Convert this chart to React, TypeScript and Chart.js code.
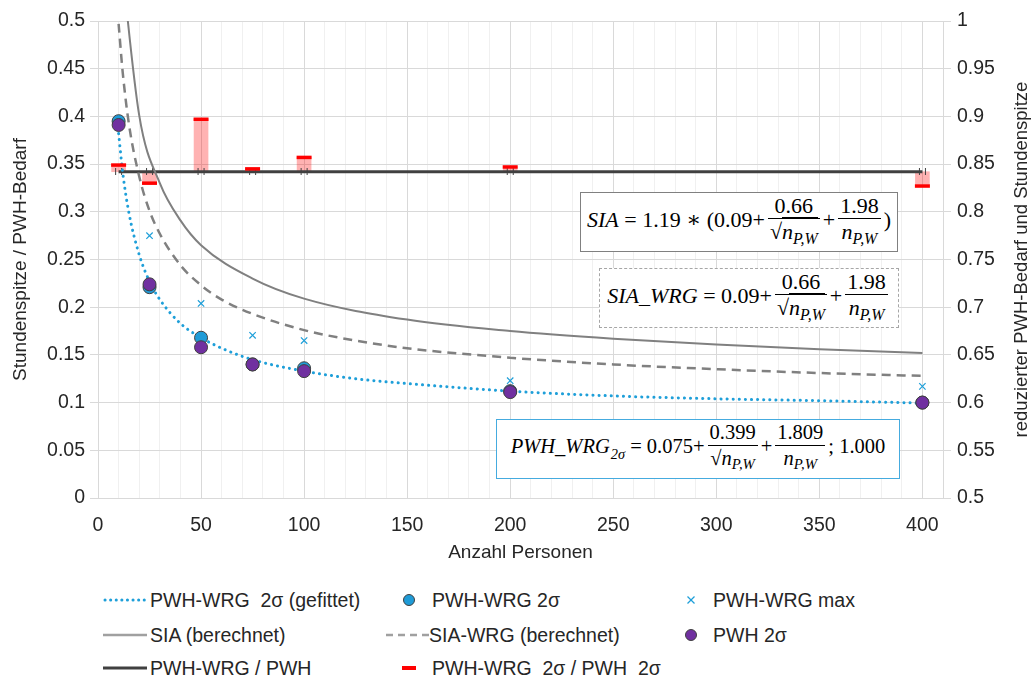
import React, { useEffect, useRef } from "react";
import { Chart, registerables } from "chart.js";
Chart.register(...registerables);

// ---- data ----
const curveX = [10, 12, 15, 20, 25, 30, 40, 50, 60, 75, 100, 125, 150, 200, 250, 300, 350, 400];
const pwhWrgFit = [0.382, 0.341, 0.299, 0.255, 0.227, 0.208, 0.183, 0.168, 0.157, 0.145, 0.133, 0.125, 0.12, 0.112, 0.107, 0.104, 0.102, 0.0995];
const siaWrg = [0.497, 0.446, 0.392, 0.337, 0.301, 0.277, 0.244, 0.223, 0.208, 0.193, 0.176, 0.165, 0.157, 0.147, 0.14, 0.135, 0.131, 0.128];
const siaX = [10, 20, 30, 40, 50, 75, 100, 150, 200, 250, 300, 350, 400];
const sia = [0.592, 0.401, 0.33, 0.291, 0.265, 0.23, 0.209, 0.187, 0.175, 0.167, 0.161, 0.156, 0.152];
const persons = [10, 25, 50, 75, 100, 200, 400];
const pwhWrg2s = [0.395, 0.221, 0.168, 0.14, 0.136, 0.112, 0.1];
const pwh2s = [0.391, 0.224, 0.158, 0.14, 0.133, 0.111, 0.1];
const pwhWrgMax = [null, 0.275, 0.204, 0.1705, 0.165, 0.123, 0.117];
const ratioMean = [0.842, 0.842, 0.842, 0.842, 0.842, 0.842, 0.842];
const ratio2s = [0.849, 0.83, 0.897, 0.845, 0.857, 0.847, 0.827];
const leftTicks = { min: 0, max: 0.5, step: 0.05 };
const rightTicks = { min: 0.5, max: 1, step: 0.05 };
const xTicks = { min: 0, max: 410, step: 10, major: 50 };

const FONT = '"Liberation Sans", Arial, sans-serif';
const TXT = "#262626";
const MATH = '"Liberation Serif", "DejaVu Serif", serif';

const pts = (xs: number[], ys: (number | null)[]) =>
  xs.map((x, i) => ({ x, y: ys[i] })).filter((p) => p.y !== null);

function makeH(): HTMLCanvasElement {
  const c = document.createElement("canvas");
  c.width = 9;
  c.height = 7;
  const g = c.getContext("2d")!;
  g.fillStyle = "#404040";
  g.fillRect(1, 0, 1, 7);
  g.fillRect(7, 0, 1, 7);
  return c;
}

const rightTitle = {
  id: "rightTitle",
  afterDraw(chart: any) {
    const { ctx, chartArea } = chart;
    ctx.save();
    ctx.translate(chart.width - 13, (chartArea.top + chartArea.bottom) / 2);
    ctx.rotate(-Math.PI / 2);
    ctx.font = `18.5px ${FONT}`;
    ctx.fillStyle = TXT;
    ctx.textAlign = "center";
    ctx.textBaseline = "middle";
    ctx.fillText("reduzierter PWH-Bedarf und Stundenspitze", 0, 0);
    ctx.restore();
  },
};

function N() {
  return (
    <span style={{ whiteSpace: "nowrap" }}>
      <i>n</i>
      <sub style={{ fontSize: "0.72em", fontStyle: "italic", verticalAlign: "-0.3em" }}>P,W</sub>
    </span>
  );
}
function SqrtN() {
  return (
    <span style={{ whiteSpace: "nowrap" }}>
      √<span style={{ borderTop: "1px solid #000", paddingTop: 1 }}><N /></span>
    </span>
  );
}
function Frac({ num, den }: { num: React.ReactNode; den: React.ReactNode }) {
  return (
    <span style={{ display: "inline-flex", flexDirection: "column", alignItems: "stretch", verticalAlign: "middle", margin: "0 3px" }}>
      <span style={{ textAlign: "center", lineHeight: "25px", padding: "0 2px" }}>{num}</span>
      <span style={{ textAlign: "center", lineHeight: "25px", borderTop: "1.5px solid #000", padding: "0 2px" }}>{den}</span>
    </span>
  );
}
function Box({ style, children }: { style: React.CSSProperties; children: React.ReactNode }) {
  return (
    <div
      style={{
        position: "absolute",
        boxSizing: "border-box",
        background: "#fff",
        display: "flex",
        alignItems: "center",
        justifyContent: "center",
        fontFamily: MATH,
        fontSize: 22,
        color: "#000",
        whiteSpace: "nowrap",
        ...style,
      }}
    >
      <span style={{ display: "inline-block", lineHeight: "normal" }}>{children}</span>
    </div>
  );
}

function Sym({ kind }: { kind: string }) {
  const w = 44, h = 16, c = h / 2;
  let el: React.ReactNode = null;
  if (kind === "dot") el = <line x1={2} y1={c} x2={42} y2={c} stroke="#1e9fd9" strokeWidth={3} strokeDasharray="0.1 5.5" strokeLinecap="round" />;
  if (kind === "solid") el = <line x1={0} y1={c} x2={44} y2={c} stroke="#a0a0a0" strokeWidth={2.5} />;
  if (kind === "black") el = <line x1={0} y1={c} x2={44} y2={c} stroke="#404040" strokeWidth={3} />;
  if (kind === "dash") el = <line x1={0} y1={c} x2={44} y2={c} stroke="#a0a0a0" strokeWidth={2.5} strokeDasharray="7 5" />;
  if (kind === "blue") el = <circle cx={22} cy={c} r={5.5} fill="#1f9bd7" stroke="#404040" strokeWidth={1} />;
  if (kind === "purple") el = <circle cx={22} cy={c} r={5.5} fill="#7030a0" stroke="#404040" strokeWidth={1} />;
  if (kind === "x")
    el = (
      <g stroke="#1e9fd9" strokeWidth={1.2}>
        <line x1={18.5} y1={c - 3.5} x2={25.5} y2={c + 3.5} />
        <line x1={18.5} y1={c + 3.5} x2={25.5} y2={c - 3.5} />
      </g>
    );
  if (kind === "red") el = <rect x={15} y={c - 2} width={14} height={4} fill="#ff0000" />;
  return (
    <svg width={w} height={h} style={{ position: "absolute", left: 0, top: -h / 2 }}>
      {el}
    </svg>
  );
}

const legendItems = [
  { kind: "dot", label: "PWH-WRG  2σ (gefittet)", sx: 103, tx: 150, y: 600 },
  { kind: "blue", label: "PWH-WRG 2σ", sx: 387, tx: 432, y: 600 },
  { kind: "x", label: "PWH-WRG max", sx: 669, tx: 713, y: 600 },
  { kind: "solid", label: "SIA (berechnet)", sx: 103, tx: 150, y: 635 },
  { kind: "dash", label: "SIA-WRG (berechnet)", sx: 386, tx: 429, y: 635 },
  { kind: "purple", label: "PWH 2σ", sx: 669, tx: 713, y: 635 },
  { kind: "black", label: "PWH-WRG / PWH", sx: 103, tx: 150, y: 668 },
  { kind: "red", label: "PWH-WRG  2σ / PWH  2σ", sx: 387, tx: 432, y: 668 },
];

export default function App() {
  const ref = useRef<HTMLCanvasElement>(null);
  useEffect(() => {
    if (!ref.current) return;
    const hMark = makeH();
    const font = { family: FONT, size: 19.5 };
    const titleFont = { family: FONT, size: 19 };
    const chart = new Chart(ref.current, {
      type: "scatter",
      data: {
        datasets: [
          {
            label: "PWH 2σ",
            data: pts(persons, pwh2s),
            yAxisID: "y",
            pointStyle: "circle",
            pointRadius: 6.5,
            backgroundColor: "#7030a0",
            borderColor: "#404040",
            borderWidth: 1,
            order: 1,
          } as any,
          {
            label: "PWH-WRG 2σ",
            data: pts(persons, pwhWrg2s),
            yAxisID: "y",
            pointStyle: "circle",
            pointRadius: 6.5,
            backgroundColor: "#1f9bd7",
            borderColor: "#404040",
            borderWidth: 1,
            order: 2,
          },
          {
            label: "PWH-WRG max",
            data: pts(persons, pwhWrgMax),
            yAxisID: "y",
            pointStyle: "crossRot",
            pointRadius: 4.5,
            borderColor: "#1e9fd9",
            borderWidth: 1.2,
            order: 3,
          },
          {
            label: "PWH-WRG 2σ / PWH 2σ",
            data: pts(persons, ratio2s),
            yAxisID: "y2",
            pointStyle: "line",
            pointRadius: 7.5,
            borderColor: "#ff0000",
            borderWidth: 3.5,
            order: 4,
          },
          {
            label: "PWH-WRG 2σ (gefittet)",
            data: pts(curveX, pwhWrgFit),
            yAxisID: "y",
            showLine: true,
            pointRadius: 0,
            borderColor: "#1e9fd9",
            borderWidth: 3,
            borderDash: [0.1, 6],
            borderCapStyle: "round",
            cubicInterpolationMode: "monotone",
            order: 5,
          },
          {
            label: "SIA-WRG (berechnet)",
            data: pts(curveX, siaWrg),
            yAxisID: "y",
            showLine: true,
            pointRadius: 0,
            borderColor: "#808080",
            borderWidth: 2.5,
            borderDash: [9, 6],
            cubicInterpolationMode: "monotone",
            order: 6,
          },
          {
            label: "SIA (berechnet)",
            data: pts(siaX, sia),
            yAxisID: "y",
            showLine: true,
            pointRadius: 0,
            borderColor: "#808080",
            borderWidth: 2,
            cubicInterpolationMode: "monotone",
            order: 7,
          },
          {
            label: "PWH-WRG / PWH",
            data: pts(persons, ratioMean),
            yAxisID: "y2",
            showLine: true,
            pointStyle: hMark,
            pointRadius: 4,
            borderColor: "#404040",
            borderWidth: 3,
            order: 8,
          },
          {
            type: "bar",
            label: "Abweichung",
            data: persons.map((x, i) => ({ x, y: [ratioMean[i], ratio2s[i]] })),
            yAxisID: "y2",
            backgroundColor: "rgba(255,0,0,0.3)",
            barThickness: 14,
            order: 9,
          } as any,
        ],
      },
      options: {
        responsive: false,
        devicePixelRatio: 1,
        animation: false,
        events: [],
        layout: { padding: { top: 21, left: 0, right: 0, bottom: 0 } },
        plugins: { legend: { display: false }, tooltip: { enabled: false } },
        scales: {
          x: {
            type: "linear",
            position: "bottom",
            min: xTicks.min,
            max: xTicks.max,
            offset: false,
            ticks: {
              stepSize: xTicks.step,
              autoSkip: false,
              maxRotation: 0,
              font,
              color: TXT,
              padding: 10,
              callback: (v: any) => (Math.round(v) % xTicks.major === 0 ? String(v) : ""),
            },
            grid: {
              offset: false,
              color: (c: any) => (c.tick && Math.round(c.tick.value) % xTicks.major === 0 ? "#d9d9d9" : "#f0f0f0"),
              tickColor: "rgba(0,0,0,0)",
              tickLength: 6,
            },
            border: { color: "#d9d9d9" },
            title: { display: true, text: "Anzahl Personen", font: titleFont, color: TXT, padding: { top: 0, bottom: 16 } },
            afterFit: (s: any) => {
              s.height = 82;
            },
          } as any,
          y: {
            type: "linear",
            position: "left",
            min: leftTicks.min,
            max: leftTicks.max,
            ticks: {
              stepSize: leftTicks.step,
              font,
              color: TXT,
              padding: 5,
              callback: (v: any) => String(Number(Number(v).toFixed(2))),
            },
            grid: { color: "#d9d9d9", tickColor: "#d9d9d9", tickLength: 8 },
            border: { color: "#d9d9d9" },
            title: { display: true, text: "Stundenspitze / PWH-Bedarf", font: titleFont, color: TXT, padding: { top: 9, bottom: 0 } },
            afterFit: (s: any) => {
              s.width = 98;
            },
          } as any,
          y2: {
            type: "linear",
            position: "right",
            min: rightTicks.min,
            max: rightTicks.max,
            ticks: {
              stepSize: rightTicks.step,
              font,
              color: TXT,
              padding: 6,
              callback: (v: any) => String(Number(Number(v).toFixed(2))),
            },
            grid: { drawOnChartArea: false, tickColor: "#d9d9d9", tickLength: 8 },
            border: { color: "#d9d9d9" },
            afterFit: (s: any) => {
              s.width = 92;
            },
          } as any,
        },
      },
      plugins: [rightTitle],
    });
    return () => chart.destroy();
  }, []);

  return (
    <div style={{ position: "absolute", left: 0, top: 0, width: 1035, height: 680, background: "#fff", overflow: "hidden" }}>
      <canvas ref={ref} width={1035} height={580} style={{ display: "block", width: 1035, height: 580 }} />
      <Box style={{ left: 580, top: 192, width: 318, height: 60, border: "1.5px solid #808080" }}>
        <i>SIA</i>&nbsp;=&nbsp;1.19&nbsp;∗&nbsp;(0.09+
        <Frac num="0.66" den={<SqrtN />} />+<Frac num="1.98" den={<N />} />)
      </Box>
      <Box style={{ left: 599, top: 268, width: 300, height: 60, border: "1.5px dashed #a6a6a6" }}>
        <i>SIA_WRG</i>&nbsp;=&nbsp;0.09+
        <Frac num="0.66" den={<SqrtN />} />+<Frac num="1.98" den={<N />} />
      </Box>
      <Box style={{ left: 496, top: 419, width: 404, height: 60, border: "1.5px solid #45abdf", fontSize: 20.5 }}>
        <i>PWH_WRG</i>
        <sub style={{ fontSize: "0.7em", fontStyle: "italic", verticalAlign: "-0.35em", marginLeft: 1 }}>2σ</sub>&nbsp;=&nbsp;0.075+
        <Frac num="0.399" den={<SqrtN />} />+<Frac num="1.809" den={<N />} />;&nbsp;1.000
      </Box>
      {legendItems.map((it) => (
        <React.Fragment key={it.label}>
          <div style={{ position: "absolute", left: it.sx, top: it.y, width: 44, height: 0 }}>
            <Sym kind={it.kind} />
          </div>
          <div
            style={{
              position: "absolute",
              left: it.tx,
              top: it.y - 12,
              height: 24,
              lineHeight: "24px",
              fontFamily: FONT,
              fontSize: 19.5,
              color: TXT,
              whiteSpace: "pre",
            }}
          >
            {it.label}
          </div>
        </React.Fragment>
      ))}
    </div>
  );
}
